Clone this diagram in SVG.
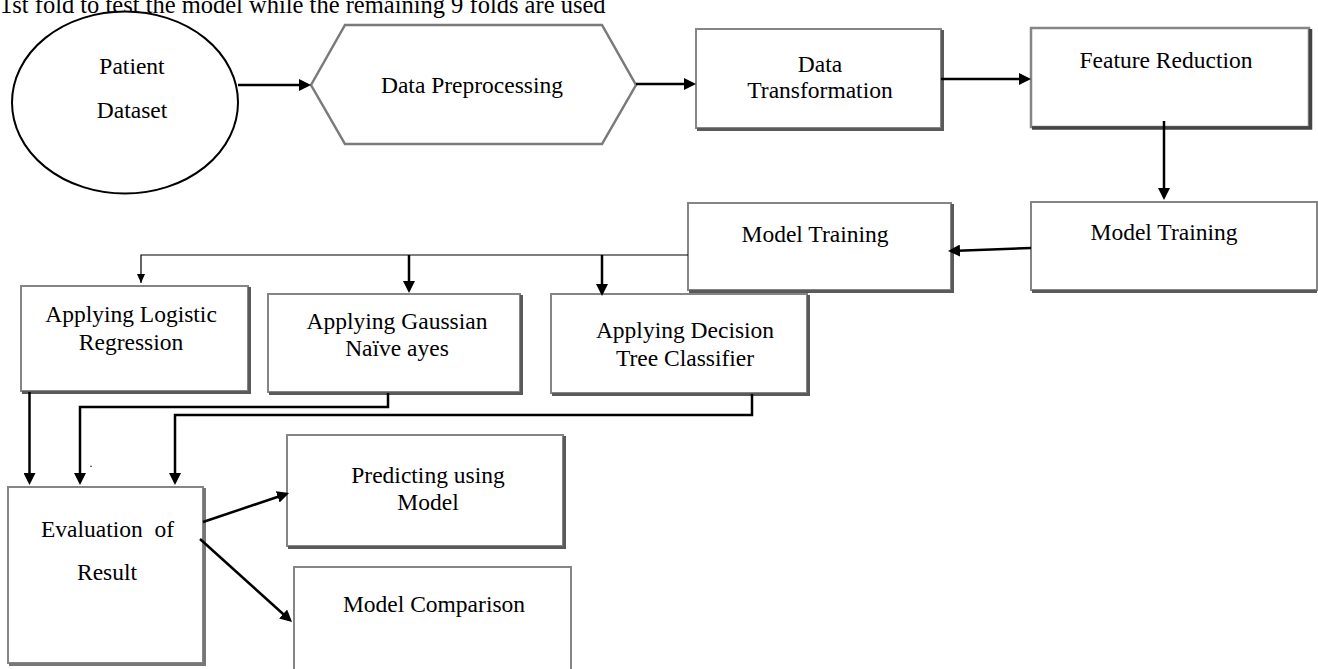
<svg xmlns="http://www.w3.org/2000/svg" width="1318" height="669" viewBox="0 0 1318 669">
<style>
text{font-family:"Liberation Serif","Times New Roman",serif;font-size:23.5px;fill:#000;text-anchor:middle}
.top{font-size:24.5px;text-anchor:start}
.box{fill:#fff;stroke:#858585;stroke-width:2}
.sh{fill:none;stroke:#5a5a5a;stroke-width:3}
.hex{fill:#fff;stroke:#7a7a7a;stroke-width:2.5}
.ell{fill:#fff;stroke:#000;stroke-width:2}
.c{fill:none;stroke:#000;stroke-width:2.5}
.ca{fill:none;stroke:#000;stroke-width:2.5;marker-end:url(#ah)}
.thin{fill:none;stroke:#000;stroke-width:1.2;marker-end:url(#as)}
</style>
<defs>
<marker id="ah" markerUnits="userSpaceOnUse" markerWidth="12" markerHeight="12" refX="9" refY="6" orient="auto">
<path d="M0,0 L12,6 L0,12 z" fill="#000"/>
</marker>
<marker id="as" markerUnits="userSpaceOnUse" markerWidth="9" markerHeight="8" refX="9" refY="4" orient="auto">
<path d="M0,0 L9,4 L0,8 z" fill="#000"/>
</marker>
</defs>
<rect width="1318" height="669" fill="#fff"/>
<text class="top" x="0" y="13">1st fold to test the model while the remaining 9 folds are used</text>

<g id="patient-dataset">
<ellipse class="ell" cx="125" cy="102.5" rx="113" ry="91"/>
<text x="132" y="74">Patient</text>
<text x="132" y="118">Dataset</text>
</g>

<g id="data-preprocessing">
<polygon class="hex" points="311,85 345,25 602,25 636,85 602,144 345,144"/>
<text x="472" y="93">Data Preprocessing</text>
</g>

<g id="data-transformation">
<rect class="box" x="696" y="29" width="245" height="99"/>
<polyline class="sh" points="697,129.5 942.5,129.5 942.5,30"/>
<text x="820" y="72">Data</text>
<text x="820" y="98">Transformation</text>
</g>

<g id="feature-reduction">
<rect class="box" x="1031" y="28" width="278" height="99" style="stroke-width:2.5"/>
<polyline class="sh" points="1032,128 1310.5,128 1310.5,29" style="stroke:#444;stroke-width:3.5"/>
<text x="1166" y="68">Feature Reduction</text>
</g>

<g id="model-training-right">
<rect class="box" x="1031" y="202" width="286" height="88"/>
<polyline class="sh" points="1032,291.5 1317,291.5"/>
<text x="1164" y="240">Model Training</text>
</g>

<g id="model-training-left">
<rect class="box" x="688" y="203" width="263" height="87"/>
<polyline class="sh" points="689,291.5 952.5,291.5 952.5,204"/>
<text x="815" y="242">Model Training</text>
</g>

<g id="logistic-regression">
<rect class="box" x="21" y="286" width="227" height="105"/>
<polyline class="sh" points="22,392.5 249.5,392.5 249.5,287"/>
<text x="131" y="322">Applying Logistic</text>
<text x="131" y="350">Regression</text>
</g>

<g id="gaussian-nb">
<rect class="box" x="268" y="294" width="252" height="98"/>
<polyline class="sh" points="269,393.5 521.5,393.5 521.5,295"/>
<text x="397" y="329">Applying Gaussian</text>
<text x="397" y="356">Naïve ayes</text>
</g>

<g id="decision-tree">
<rect class="box" x="551" y="294" width="256" height="99"/>
<polyline class="sh" points="552,394.5 808.5,394.5 808.5,295"/>
<text x="685" y="338">Applying Decision</text>
<text x="685" y="366">Tree Classifier</text>
</g>

<g id="evaluation">
<rect class="box" x="8" y="487" width="195" height="176"/>
<polyline class="sh" points="9,664.5 204.5,664.5 204.5,488" style="stroke:#777"/>
<text x="107.5" y="537" style="white-space:pre">Evaluation  of</text>
<text x="107" y="580">Result</text>
</g>

<g id="predicting">
<rect class="box" x="287" y="435" width="276" height="111"/>
<polyline class="sh" points="288,547.5 564.5,547.5 564.5,436"/>
<text x="428" y="483">Predicting using</text>
<text x="428" y="510">Model</text>
</g>

<g id="model-comparison">
<polyline class="box" style="fill:none" points="294,669 294,567 571,567 571,669"/>
<text x="434" y="612">Model Comparison</text>
</g>

<text x="91" y="467" style="font-size:12px">.</text>

<g id="connectors">
<line class="ca" x1="238" y1="85" x2="308" y2="85"/>
<line class="ca" x1="636" y1="84" x2="693" y2="84"/>
<line class="ca" x1="941" y1="79" x2="1028" y2="79"/>
<line class="ca" x1="1164" y1="121" x2="1164" y2="197"/>
<line class="ca" x1="1031" y1="248" x2="951" y2="250.9"/>
<polyline class="thin" points="688,255 141,255 141,283"/>
<line class="ca" x1="409" y1="255" x2="409" y2="290"/>
<line class="ca" x1="602" y1="255" x2="602" y2="293"/>
<line class="ca" x1="29.5" y1="392" x2="29.5" y2="482"/>
<polyline class="ca" points="388,393 388,407 80,407 80,482"/>
<polyline class="ca" points="752,394 752,415 175,415 175,482"/>
<line class="ca" x1="203" y1="522" x2="286.2" y2="494"/>
<line class="ca" x1="200" y1="539" x2="289.8" y2="620"/>
</g>
</svg>
